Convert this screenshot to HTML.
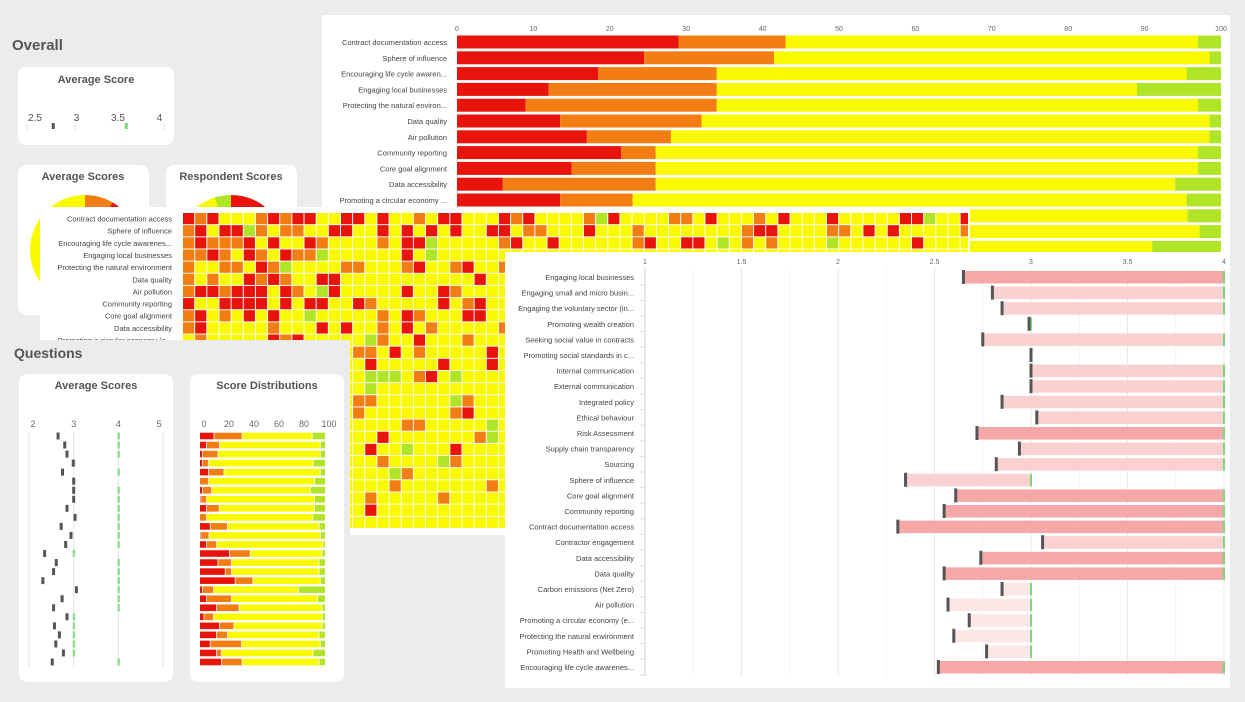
<!DOCTYPE html>
<html><head><meta charset="utf-8">
<style>
html,body{margin:0;padding:0;background:#ececec;}
svg{display:block;font-family:"Liberation Sans",sans-serif;}
</style></head>
<body>
<svg id="chart" width="1245" height="702" viewBox="0 0 1245 702" xmlns="http://www.w3.org/2000/svg">
<rect x="0" y="0" width="1245" height="702" fill="#ececec"/>
<defs>
<clipPath id="hmclip"><rect x="40" y="207" width="928" height="133"/><rect x="350" y="340" width="155" height="195"/></clipPath>
</defs>
</svg>
<script>
// ---- data ----
const topCats = ["Contract documentation access","Sphere of influence","Encouraging life cycle awaren...","Engaging local businesses","Protecting the natural environ...","Data quality","Air pollution","Community reporting","Core goal alignment","Data accessibility","Promoting a circular economy ...","Promoting Health and Wellbeing","Carbon emissions (Net Zero)","Contractor engagement"];
const topRed    = [29,24.5,18.5,12,9,13.5,17,21.5,15,6,13.5,10,8,5];
const topOrange = [14,17,15.5,22,25,18.5,11,4.5,11,20,9.5,12,12,13];
const topYellow = [54,57,61.5,55,63,66.5,70.5,71,71,68,72.5,73.6,77.2,73];
const topTicks = [0,10,20,30,40,50,60,70,80,90,100];

const heatLabels = ["Contract documentation access","Sphere of influence","Encouraging life cycle awarenes...","Engaging local businesses","Protecting the natural environment","Data quality","Air pollution","Community reporting","Core goal alignment","Data accessibility","Promoting a circular economy (e..."];
const heatRows = [
"RORyyyORORRyyRRyRyyOyRRyyyR"+"ORyyyyOGRyyyyOOyRyyyOyRyyyRyyyyyRRGyyR",
"ORyRRGOyOOyyRRyyRyRyRyRyyRR"+"yOOyyyRyyyOyyyyyyyyORRyyyyOOyRyRyyyyyO",
"OROOORyRyyROyyyyOyRRGyyyyyO"+"RyyRyyyyyyORyyRRyGyOyOyyyyGyyyyyyRyyyy",
"OOROyROyROOGyyyyyyRyGyyyyyy",
"OyyOOyROGyyyyOOyyyORyyORyyO",
"OyOyyROROyyRRyyyyyyyyyyyRyy",
"ORRORRRyROyGRyyyyyRyyROyyyy",
"RyyRRRRyRyRRyyROyyyyyRyORyy",
"ORyOyRyRyyGyyyyyOyROyyyRRyy",
"ORyyyyyOyyyRyRyyOyRyOyyyyyO",
"yOyyyyyRORyyyyyGOyyRyyyOyyy",
"yyyyyyyyyyyyyyOOyRyOyyyyyRy",
"yyyyyyyyyyyyyyyRyyyyyRyyyRy",
"yyyyyyyyyyyyyyyGGGyORyGyyyy",
"yyyyyyyyyyyyyyyGyyyyyyyyyyy",
"yyyyyyyyyyyyyyOOyyyyyyGOyyy",
"yyyyyyyyyyyyyyOyyyyyyyORyyy",
"yyyyyyyyyyyyyyyyyyOOyyyyyGy",
"yyyyyyyyyyyyyyyyRyyyyyyyOGy",
"yyyyyyyyyyyyyyyRyyGyyyRyyyy",
"yyyyyyyyyyyyyyyyOyyyyGOyyyy",
"yyyyyyyyyyyyyyyyyGOyyyyyyyy",
"yyyyyyyyyyyyyyyyyOyyyyyyyOy",
"yyyyyyyyyyyyyyyOyyyyyOyyyyy",
"yyyyyyyyyyyyyyyRyyyyyyyyyyy",
"yyyyyyyyyyyyyyyyyyyyyyyyyyy"
];

const qCats = ["Engaging local businesses","Engaging small and micro busin...","Engaging the voluntary sector (in...","Promoting wealth creation","Seeking social value in contracts","Promoting social standards in c...","Internal communication","External communication","Integrated policy","Ethical behaviour","Risk Assessment","Supply chain transparency","Sourcing","Sphere of influence","Core goal alignment","Community reporting","Contract documentation access","Contractor engagement","Data accessibility","Data quality","Carbon emissions (Net Zero)","Air pollution","Promoting a circular economy (e...","Protecting the natural environment","Promoting Health and Wellbeing","Encouraging life cycle awarenes..."];
const qAvg    = [2.65,2.80,2.85,2.99,2.75,3.0,3.0,3.0,2.85,3.03,2.72,2.94,2.82,2.35,2.61,2.55,2.31,3.06,2.74,2.55,2.85,2.57,2.68,2.60,2.77,2.52];
const qTarget = [4,4,4,3,4,3,4,4,4,4,4,4,4,3,4,4,4,4,4,4,3,3,3,3,3,4];
const qLevel  = [2,1,1,1,1,1,1,1,1,1,2,1,1,1,2,2,2,1,2,2,0,0,0,0,0,2];
const dbTicks = [1,1.5,2,2.5,3,3.5,4];

const distRed    = [11.5,5.6,2.4,2.4,7.2,0,2.4,1,5.6,0,8.5,1,5.6,24,14.7,20.5,28.5,2.4,5.6,13.6,3.5,16,13.6,8.5,13.6,17.6];
const distOrange = [22.5,10.4,12.3,4.8,12.3,7.2,7.2,4.6,10.1,5.6,13.9,6.5,8,16.5,10.9,5.1,14.2,8.8,20,17.9,7.7,11.5,8.8,25.1,4,16.4];
const distYellow = [56,80.5,81.8,83.5,77,84.8,78.9,86.4,76.3,85.1,73.1,89,85.1,57.5,69.9,69.9,53.8,67.8,68.8,66.5,86.8,70.5,73.1,62.9,73.1,61.5];
const distTicks = [0,20,40,60,80,100];
const miniTicks = [2,3,4,5];

const overallTicks = [2.5,3,3.5,4];
const overallAvg = [2.72];
const overallTarget = [3.6];

const avgPieAngles = [-180,0,30,180];
const respPieAngles = [-180,-17,0,180];

// ---- helpers ----
const NS='http://www.w3.org/2000/svg';
const svg=document.getElementById('chart');
const COL={R:'#e8140c',O:'#f27d12',y:'#f9f900',G:'#b0e426'};
const PINK=['#fde6e6','#fad0d0','#f6a8a8'];
function mk(tag,attrs,parent){const e=document.createElementNS(NS,tag);for(const k in attrs)e.setAttribute(k,attrs[k]);(parent||svg).appendChild(e);return e;}
function txt(x,y,s,size,anchor,fill,weight,parent){const t=mk('text',{x:x,y:y,'font-size':size,'text-anchor':anchor||'start',fill:fill||'#555','font-weight':weight||'normal'},parent);t.textContent=s;return t;}
function card(x,y,w,h,name){const r=mk('rect',{x:x,y:y,width:w,height:h,rx:8,fill:'#fff'});


return r;}
function pie(cx,cy,r,angles,cols,name){const g=mk('g',{});


for(let i=0;i<angles.length-1;i++){const a0=angles[i]*Math.PI/180,a1=angles[i+1]*Math.PI/180;
const x0=cx+r*Math.sin(a0),y0=cy-r*Math.cos(a0),x1=cx+r*Math.sin(a1),y1=cy-r*Math.cos(a1);
const large=(angles[i+1]-angles[i])>180?1:0;
const p=mk('path',{d:`M${cx},${cy} L${x0},${y0} A${r},${r} 0 ${large} 1 ${x1},${y1} Z`,fill:cols[i]},g);

}
return g;}

// ---- Overall section ----
let t=txt(12,50,'Overall',15,'start','#555','bold');


card(18,67,156,78,'average-score-card');
t=txt(96,83,'Average Score',11,'middle','#555','bold');


const ox=v=>35+(v-2.5)*83;
overallTicks.forEach(v=>{const l=txt(ox(v),121,String(v),10,'middle','#555');

});
[27,75,164].forEach(x=>{mk('line',{x1:x,y1:124,x2:x,y2:130,stroke:'#ddd'});});
let m=mk('rect',{x:ox(overallAvg[0])-1.5,y:123,width:3,height:6,fill:'#555'});


m=mk('rect',{x:ox(overallTarget[0])-1.5,y:123,width:3,height:6,fill:'#7fd67f'});



card(18,165,131,150,'average-scores-card');
t=txt(83,180,'Average Scores',11,'middle','#555','bold');


pie(85,250,55,avgPieAngles,[COL.y,COL.O,COL.R],'average-scores-gauge');
card(166,165,131,150,'respondent-scores-card');
t=txt(231,180,'Respondent Scores',11,'middle','#555','bold');


pie(231,250,55,respPieAngles,[COL.y,COL.G,COL.R],'respondent-scores-gauge');

// ---- Top stacked chart ----
const topPanel=mk('rect',{x:322,y:15,width:908,height:240,fill:'#fff'});


const tx=v=>457+v*7.64;
const ty=i=>42+i*15.8;
topTicks.forEach(v=>{const l=txt(tx(v),31,String(v),7,'middle','#666');

});
topCats.forEach((c,i)=>{
const l=txt(447,ty(i)+3,c,7.5,'end','#444');


const segs=[topRed[i],topOrange[i],topYellow[i],100-topRed[i]-topOrange[i]-topYellow[i]];
const cols=[COL.R,COL.O,COL.y,COL.G];let acc=0;
segs.forEach((s,k)=>{const r=mk('rect',{x:tx(acc),y:ty(i)-6.5,width:Math.max(0,tx(acc+s)-tx(acc)),height:13,fill:cols[k]});


acc+=s;});
});

// ---- Heatmap ----
const hp1=mk('rect',{x:40,y:207,width:930,height:133,fill:'#fff'});


const hp2=mk('rect',{x:350,y:340,width:155,height:195,fill:'#fff'});


const hg=mk('g',{'clip-path':'url(#hmclip)'});


const hx=c=>183+c*12.15, hy=r=>213+r*12.15;
heatRows.forEach((s,r)=>{const row=s.padEnd(65,'y');
for(let c=0;c<65;c++){const cell=mk('rect',{x:hx(c),y:hy(r),width:11.2,height:11.2,fill:COL[row[c]]},hg);

}});
const lg=mk('g',{'clip-path':'url(#hmclip)'});
heatLabels.forEach((c,r)=>{const l=txt(172,hy(r)+8.5,c,7.5,'end','#444',null,lg);

});

// ---- Questions section ----
t=txt(14,358,'Questions',14,'start','#555','bold');


card(19,374,154,308,'question-average-card');
t=txt(96,389,'Average Scores',11,'middle','#555','bold');


const mx=v=>29+(v-2)*44.7, my=i=>436+i*9.04;
miniTicks.forEach(v=>{const l=txt(mx(v)+(v===2?4:v===5?-4:0),427,String(v),9,'middle','#666');


mk('line',{x1:mx(v),y1:432,x2:mx(v),y2:667,stroke:'#e4e4e4'});});
qAvg.forEach((v,i)=>{
const g=mk('rect',{x:mx(qTarget[i])-1,y:my(i)-3.5,width:2.5,height:7,fill:'#8fe08f'});


const d=mk('rect',{x:mx(v)-1.5,y:my(i)-3.5,width:3,height:7,fill:'#555'});

});

card(190,374,154,308,'score-distributions-card');
t=txt(267,389,'Score Distributions',11,'middle','#555','bold');


const dx=p=>200+p*1.25;
distTicks.forEach(v=>{const l=txt(dx(v)+4,427,String(v),9,'middle','#666');

});
distRed.forEach((rv,i)=>{const segs=[rv,distOrange[i],distYellow[i],100-rv-distOrange[i]-distYellow[i]];
const cols=[COL.R,COL.O,COL.y,COL.G];let acc=0;
segs.forEach((s,k)=>{const r=mk('rect',{x:dx(acc),y:my(i)-3.3,width:Math.max(0,dx(acc+s)-dx(acc)-(k<3&&s>0?0.8:0)),height:6.6,fill:cols[k]});


acc+=s;});});

// ---- Dumbbell chart ----
const dp=mk('rect',{x:505,y:252,width:725,height:436,fill:'#fff'});


const gx=v=>645+(v-1)*193, gy=i=>277+i*15.6;
for(let k=0;k<=12;k++){mk('line',{x1:gx(1+k*0.25),y1:268,x2:gx(1+k*0.25),y2:676,stroke:k%2?'#f3f3f3':'#e8e8e8'});}
mk('line',{x1:645,y1:268,x2:645,y2:676,stroke:'#d0d0d0'});
dbTicks.forEach(v=>{const l=txt(gx(v),264,String(v),7,'middle','#666');

});
qCats.forEach((c,i)=>{
const l=txt(634,gy(i)+3,c,7.5,'end','#444');


mk('line',{x1:640,y1:gy(i)+7.8,x2:645,y2:gy(i)+7.8,stroke:'#ddd'});
const x0=gx(qAvg[i]),x1=gx(qTarget[i]);
const b=mk('rect',{x:Math.min(x0,x1),y:gy(i)-6,width:Math.abs(x1-x0),height:12.5,fill:PINK[qLevel[i]]});


const g=mk('rect',{x:x1-1,y:gy(i)-6,width:2,height:12.5,fill:'#7cd67c'});


const d=mk('rect',{x:x0-1.5,y:gy(i)-7,width:3,height:14,fill:'#555'});

});
</script>
</body></html>
